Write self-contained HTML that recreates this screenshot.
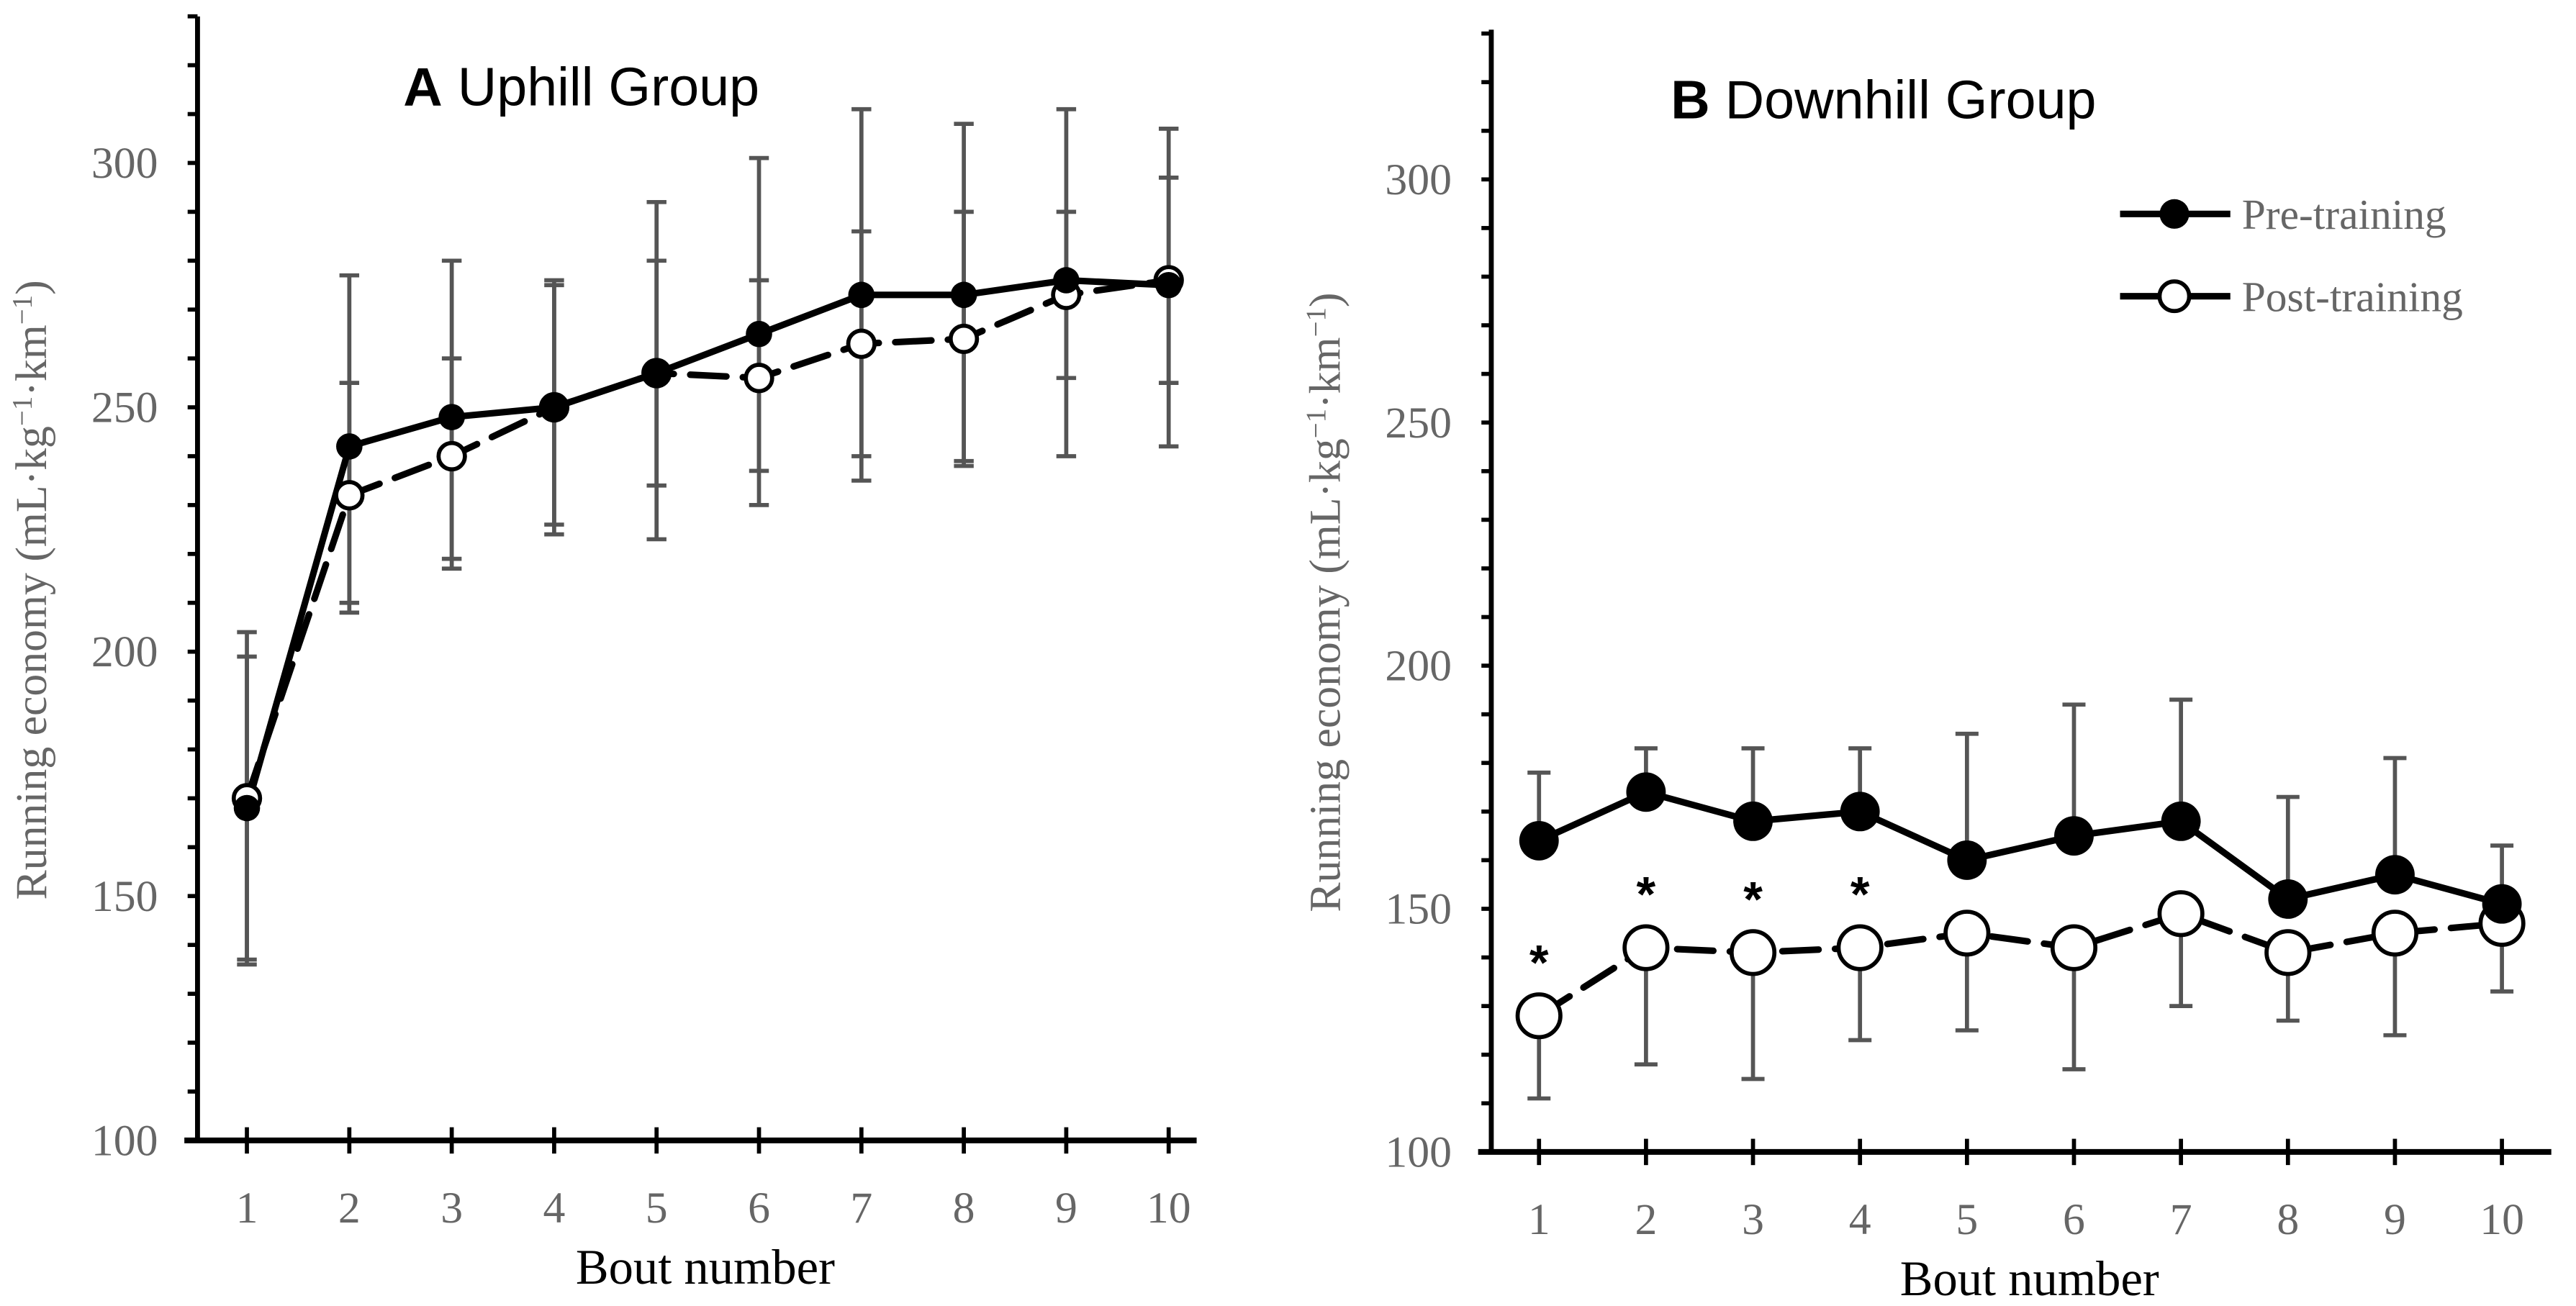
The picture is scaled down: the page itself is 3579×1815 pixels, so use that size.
<!DOCTYPE html>
<html><head><meta charset="utf-8"><style>
html,body{margin:0;padding:0;background:#fff}
svg{display:block}
text{font-family:"Liberation Serif",serif}
</style></head><body>
<svg id="chart" width="3579" height="1815" viewBox="0 0 1565 793.6" xmlns="http://www.w3.org/2000/svg"></svg>
<script>
const bouts = [1,2,3,4,5,6,7,8,9,10];
const yTicks = [100,150,200,250,300];
const preA = [168,242,248,250,257,265,273,273,276,275];
const postA = [170,232,240,250,257,256,263,264,273,276];
const preAHi = [204,277,280,276,292,301,311,308,311,307];
const preALo = [136,208,217,224,223,230,235,239,240,242];
const postAHi = [199,255,260,275,280,276,286,290,290,297];
const postALo = [137,210,219,226,234,237,240,238,256,255];
const preB = [164,174,168,170,160,165,168,152,157,151];
const postB = [128,142,141,142,145,142,149,141,145,147];
const preBHi = [178,183,183,183,186,192,193,173,181,163];
const postBLo = [111,118,115,123,125,117,130,127,124,133];
const starB = [1,2,3,4];

const NS="http://www.w3.org/2000/svg";
const svg=document.getElementById('chart');
function mk(tag,attrs,parent){const e=document.createElementNS(NS,tag);for(const k in attrs)e.setAttribute(k,attrs[k]);(parent||svg).appendChild(e);return e;}

function panel(cfg){
  const g=mk('g',{});
  
  
  const X=b=>cfg.x1+(b-1)*(cfg.x10-cfg.x1)/9;
  const Y=v=>cfg.y100-(v-100)*(cfg.y100-cfg.y300)/200;
  for(let v=100;v<=330;v+=10){
    const t=mk('line',{x1:cfg.ax-6,x2:cfg.ax,y1:Y(v),y2:Y(v),stroke:'#000','stroke-width':2.5},g);
    
    
  }
  yTicks.forEach(v=>{
    const t=mk('text',{x:cfg.ax-24,y:Y(v)+9,'text-anchor':'end','font-size':27,fill:'#666'},g);
    t.textContent=v;
    
    
  });
  bouts.forEach(b=>{
    const t=mk('line',{x1:X(b),x2:X(b),y1:cfg.y100-8,y2:cfg.y100+8,stroke:'#000','stroke-width':2.5},g);
    
    
    const l=mk('text',{x:X(b),y:cfg.y100+50,'text-anchor':'middle','font-size':27,fill:'#666'},g);
    l.textContent=b;
    
    
  });
  const ya=mk('line',{x1:cfg.ax,x2:cfg.ax,y1:cfg.ytop,y2:cfg.y100,stroke:'#000','stroke-width':3},g);
  
  
  const xa=mk('line',{x1:cfg.ax-8,x2:cfg.axEnd,y1:cfg.y100,y2:cfg.y100,stroke:'#000','stroke-width':3.5},g);
  
  
  const xt=mk('text',{x:(cfg.ax+cfg.axEnd)/2+5,y:cfg.y100+87,'text-anchor':'middle','font-size':30,fill:'#000'},g);
  xt.textContent='Bout number';
  
  
  const yt=mk('text',{x:0,y:0,'text-anchor':'middle','font-size':27,fill:'#666',transform:`translate(${cfg.ax-92},${(cfg.ytop+cfg.y100)/2+7}) rotate(-90)`},g);
  yt.innerHTML='Running economy (mL·kg<tspan dy="-9" font-size="17">−1</tspan><tspan dy="9">·km</tspan><tspan dy="-9" font-size="17">−1</tspan><tspan dy="9">)</tspan>';
  
  
  const tt=mk('text',{x:cfg.titleX,y:cfg.titleY,'font-size':33,fill:'#000',style:'font-family:"Liberation Sans",sans-serif'},g);
  tt.innerHTML='<tspan font-weight="bold">'+cfg.letter+'</tspan> '+cfg.title;
  
  
  const eb=(b,hi,lo,cap)=>{
    const e=mk('line',{x1:X(b),x2:X(b),y1:Y(hi),y2:Y(lo),stroke:'#555','stroke-width':2.5},g);
    
    
    [hi,lo].forEach(v=>{const c=mk('line',{x1:X(b)-cap,x2:X(b)+cap,y1:Y(v),y2:Y(v),stroke:'#555','stroke-width':2.5},g);
      
      });
  };
  cfg.bars.forEach(([hi,lo])=>bouts.forEach((b,i)=>eb(b,hi[i],lo[i],cfg.cap)));
  const pts=a=>a.map((v,i)=>X(bouts[i])+','+Y(v)).join(' ');
  const lp=mk('polyline',{points:pts(cfg.post),fill:'none',stroke:'#000','stroke-width':4,'stroke-dasharray':'22,10','stroke-linecap':'round'},g);
  
  
  const lr=mk('polyline',{points:pts(cfg.pre),fill:'none',stroke:'#000','stroke-width':4},g);
  
  
  cfg.post.forEach((v,i)=>{const c=mk('circle',{cx:X(bouts[i]),cy:Y(v),r:cfg.rPost,fill:'#fff',stroke:'#000','stroke-width':2.5},g);
    
    });
  cfg.pre.forEach((v,i)=>{const c=mk('circle',{cx:X(bouts[i]),cy:Y(v),r:cfg.rPre,fill:'#000'},g);
    
    });
  if(cfg.stars) cfg.stars.forEach(b=>{
    const s=mk('text',{x:X(b),y:Y(cfg.post[b-1])-22,'text-anchor':'middle','font-size':30,'font-weight':'bold',style:'font-family:"Liberation Sans",sans-serif'},g);
    s.textContent='*';
    
    
  });
  return g;
}
panel({name:'panel-a-uphill',letter:'A',title:'Uphill Group',ax:120,axEnd:727,x1:150,x10:710,y100:693,y300:99,ytop:10,
  titleX:245,titleY:64,pre:preA,post:postA,bars:[[preAHi,preALo],[postAHi,postALo]],cap:6,rPre:8,rPost:8});
panel({name:'panel-b-downhill',letter:'B',title:'Downhill Group',ax:906,axEnd:1550,x1:935,x10:1520,y100:700,y300:109,ytop:18,
  titleX:1015,titleY:72,pre:preB,post:postB,bars:[[preBHi,preB],[postB,postBLo]],cap:7,rPre:12,rPost:13,stars:starB});
const lg=mk('g',{});


const l1=mk('line',{x1:1288,x2:1355,y1:130,y2:130,stroke:'#000','stroke-width':4},lg);


const c1=mk('circle',{cx:1321,cy:130,r:9,fill:'#000'},lg);


const t1=mk('text',{x:1362,y:139,'font-size':26,fill:'#666'},lg);
t1.textContent='Pre-training';


const l2=mk('line',{x1:1288,x2:1355,y1:180,y2:180,stroke:'#000','stroke-width':4},lg);


const c2=mk('circle',{cx:1321,cy:180,r:9,fill:'#fff',stroke:'#000','stroke-width':2.5},lg);


const t2=mk('text',{x:1362,y:189,'font-size':26,fill:'#666'},lg);
t2.textContent='Post-training';


</script>
</body></html>
